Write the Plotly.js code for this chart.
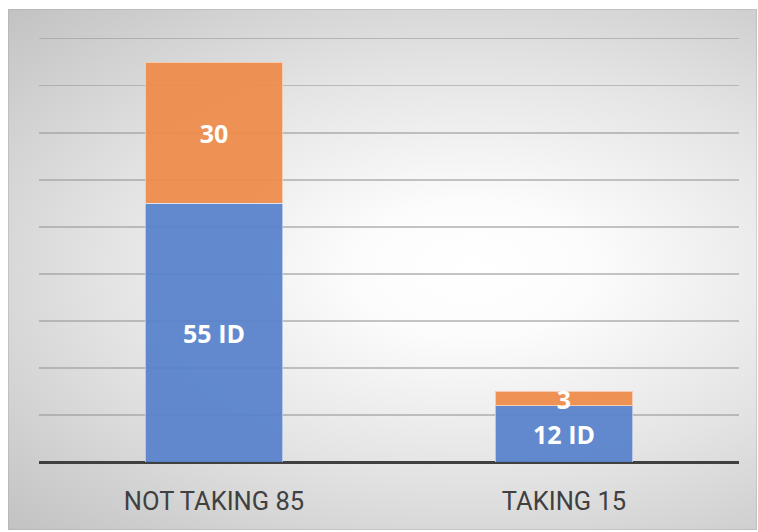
<!DOCTYPE html>
<html>
<head>
<meta charset="utf-8">
<script src="https://cdn.plot.ly/plotly-3.0.1.min.js"></script>
<style>
  html, body { margin: 0; padding: 0; background: #ffffff; width: 758px; height: 532px; overflow: hidden; }
  #bg {
    position: absolute; left: 8px; top: 9px; width: 749px; height: 521px;
    background: radial-gradient(ellipse farthest-corner at 62% 50%, #ffffff 0%, #fcfcfc 18%, #e4e4e4 55%, #c2c2c2 100%);
    box-shadow: inset 0 0 0 1px rgba(160,160,160,0.35);
  }
  #chart { position: absolute; left: 0; top: 0; width: 758px; height: 532px; }
</style>
</head>
<body>
<div id="bg"></div>
<div id="chart"></div>
<script>
const categories = ["NOT TAKING 85", "TAKING 15"];
const idValues = [55, 12];
const otherValues = [30, 3];
const idLabels = ["55 ID", "12 ID"];
const otherLabels = ["30", "3"];

const labelFont = { family: "Open Sans, sans-serif", size: 25, color: "#ffffff", weight: 700 };

const traces = [
  {
    type: "bar",
    x: categories,
    y: idValues,
    text: idLabels,
    textposition: "inside",
    insidetextanchor: "middle",
    constraintext: "none",
    textangle: 0,
    textfont: labelFont,
    cliponaxis: false,
    hoverinfo: "skip",
    marker: { color: "rgb(88,130,204)", opacity: 0.93, line: { color: "rgba(255,255,255,0.55)", width: 1 } }
  },
  {
    type: "bar",
    x: categories,
    y: otherValues,
    text: otherLabels,
    textposition: "inside",
    insidetextanchor: "middle",
    constraintext: "none",
    textangle: 0,
    textfont: labelFont,
    cliponaxis: false,
    hoverinfo: "skip",
    marker: { color: "rgb(238,139,74)", opacity: 0.93, line: { color: "rgba(255,255,255,0.55)", width: 1 } }
  }
];

const layout = {
  width: 758,
  height: 532,
  margin: { l: 39, r: 19, t: 34, b: 70, pad: 0 },
  paper_bgcolor: "rgba(0,0,0,0)",
  plot_bgcolor: "rgba(0,0,0,0)",
  barmode: "stack",
  bargap: 0.606,
  showlegend: false,
  xaxis: {
    type: "category",
    showgrid: false,
    showline: false,
    zeroline: false,
    ticks: "",
    tickfont: { family: "Roboto, sans-serif", size: 25.5, color: "#404040" },
    ticklabelstandoff: 21
  },
  yaxis: {
    range: [0, 91],
    dtick: 10,
    showticklabels: false,
    ticks: "",
    showgrid: true,
    gridcolor: "rgba(150,150,150,0.55)",
    gridwidth: 1.5,
    zeroline: true,
    zerolinecolor: "#404040",
    zerolinewidth: 3,
    showline: false
  }
};

Plotly.newPlot("chart", traces, layout, { staticPlot: true, displayModeBar: false });
</script>
</body>
</html>
